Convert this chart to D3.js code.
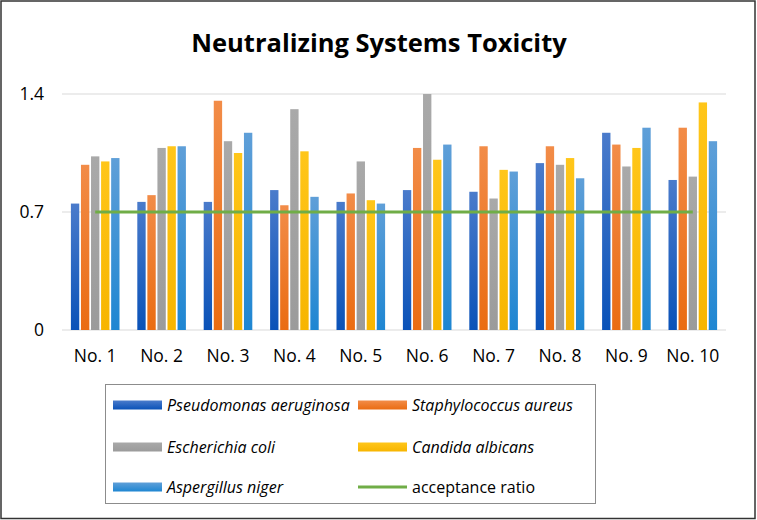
<!DOCTYPE html>
<html>
  <head>
    <script src="https://d3js.org/d3.v7.min.js"></script>
    <style>
      body { margin: 0; background: #fff; }
      text { font-family: "Open Sans", "Noto Sans", sans-serif; }
    </style>
  </head>
  <body>
    <script>

    const categories = ["No. 1", "No. 2", "No. 3", "No. 4", "No. 5", "No. 6", "No. 7", "No. 8", "No. 9", "No. 10"];
    const seriesNames = ["Pseudomonas aeruginosa", "Staphylococcus aureus", "Escherichia coli", "Candida albicans", "Aspergillus niger"];
    const pseudomonas = [0.75, 0.76, 0.76, 0.83, 0.76, 0.83, 0.82, 0.99, 1.17, 0.89];
    const staphylococcus = [0.98, 0.80, 1.36, 0.74, 0.81, 1.08, 1.09, 1.09, 1.10, 1.20];
    const escherichia = [1.03, 1.08, 1.12, 1.31, 1.00, 1.40, 0.78, 0.98, 0.97, 0.91];
    const candida = [1.00, 1.09, 1.05, 1.06, 0.77, 1.01, 0.95, 1.02, 1.08, 1.35];
    const aspergillus = [1.02, 1.09, 1.17, 0.79, 0.75, 1.10, 0.94, 0.90, 1.20, 1.12];
    const acceptance = [0.7, 0.7, 0.7, 0.7, 0.7, 0.7, 0.7, 0.7, 0.7, 0.7];
    const yTicks = [0, 0.7, 1.4];

    const seriesValues = [pseudomonas, staphylococcus, escherichia, candida, aspergillus];
    const gradients = [
      ["#4a7bcb", "#0a52b8"],
      ["#f28c48", "#ea6c12"],
      ["#a9a9a9", "#9b9b9b"],
      ["#ffc61a", "#f7b500"],
      ["#5f9fd8", "#1e86d2"]
    ];

    const width = 757, height = 520;

    const svg = d3.select("body").append("svg")
        .attr("width", width)
        .attr("height", height);

    // outer frame
    svg.append("rect")
        .attr("x", 1).attr("y", 1)
        .attr("width", width - 3).attr("height", height - 2.5)
        .attr("fill", "#fff")
        .attr("stroke", "#333")
        .attr("stroke-width", 1.5);

    const defs = svg.append("defs");
    gradients.forEach((g, i) => {
      const lg = defs.append("linearGradient")
          .attr("id", "grad" + i)
          .attr("x1", 0).attr("y1", 0).attr("x2", 0).attr("y2", 1);
      lg.append("stop").attr("offset", "0%").attr("stop-color", g[0]);
      lg.append("stop").attr("offset", "100%").attr("stop-color", g[1]);
    });

    svg.append("text")
        .attr("x", 379).attr("y", 52)
        .attr("text-anchor", "middle")
        .attr("font-size", 25.5)
        .attr("font-weight", "bold")
        .attr("fill", "#000")
        .text("Neutralizing Systems Toxicity");

    const x = d3.scaleBand().domain(categories).range([62, 726]);
    const xInner = d3.scaleBand().domain(seriesNames).range([-24.3, 24.3]).paddingInner(0.17);
    const y = d3.scaleLinear().domain([0, 1.4]).range([330, 94]);

    // gridlines
    svg.append("g").selectAll("line")
      .data(yTicks)
      .join("line")
        .attr("x1", 62).attr("x2", 726)
        .attr("y1", d => y(d)).attr("y2", d => y(d))
        .attr("stroke", "#d9d9d9")
        .attr("stroke-width", 1);

    // y labels
    svg.append("g").selectAll("text")
      .data(yTicks)
      .join("text")
        .attr("x", 44)
        .attr("y", d => y(d))
        .attr("dy", "0.35em")
        .attr("text-anchor", "end")
        .attr("font-size", 17.5)
        .attr("fill", "#000")
        .text(d => d);

    // x labels
    svg.append("g").selectAll("text")
      .data(categories)
      .join("text")
        .attr("x", d => x(d) + x.bandwidth() / 2)
        .attr("y", 362)
        .attr("text-anchor", "middle")
        .attr("font-size", 17.5)
        .attr("fill", "#000")
        .text(d => d);

    // bars
    seriesValues.forEach((vals, i) => {
      svg.append("g").selectAll("rect")
        .data(vals)
        .join("rect")
          .attr("x", (d, j) => x(categories[j]) + x.bandwidth() / 2 + xInner(seriesNames[i]))
          .attr("width", xInner.bandwidth())
          .attr("y", d => y(d))
          .attr("height", d => y(0) - y(d))
          .attr("fill", `url(#grad${i})`);
    });

    // acceptance line
    const line = d3.line()
        .x((d, j) => x(categories[j]) + x.bandwidth() / 2)
        .y(d => y(d));
    svg.append("path")
        .datum(acceptance)
        .attr("d", line)
        .attr("fill", "none")
        .attr("stroke", "#70ad47")
        .attr("stroke-width", 3);

    // legend
    svg.append("rect")
        .attr("x", 105.5).attr("y", 384.5)
        .attr("width", 490).attr("height", 119)
        .attr("fill", "none")
        .attr("stroke", "#8c8c8c")
        .attr("stroke-width", 1);

    const legendItems = seriesNames.map((n, i) => ({ name: n, type: "bar", i }))
      .concat([{ name: "acceptance ratio", type: "line" }]);
    const rowY = [405, 447, 487];
    const colX = [113, 358];

    const leg = svg.append("g").selectAll("g")
      .data(legendItems)
      .join("g")
        .attr("transform", (d, k) => `translate(${colX[k % 2]},${rowY[Math.floor(k / 2)]})`);

    leg.filter(d => d.type === "bar").append("rect")
        .attr("x", 0).attr("y", -4.5)
        .attr("width", 49).attr("height", 9)
        .attr("fill", d => `url(#grad${d.i})`);

    leg.filter(d => d.type === "line").append("line")
        .attr("x1", 0).attr("x2", 49)
        .attr("y1", 0).attr("y2", 0)
        .attr("stroke", "#70ad47")
        .attr("stroke-width", 3);

    leg.append("text")
        .attr("x", 54)
        .attr("dy", "0.35em")
        .attr("font-size", 16)
        .attr("font-style", d => d.type === "bar" ? "italic" : "normal")
        .attr("fill", "#000")
        .text(d => d.name);

    </script>
  </body>
</html>
